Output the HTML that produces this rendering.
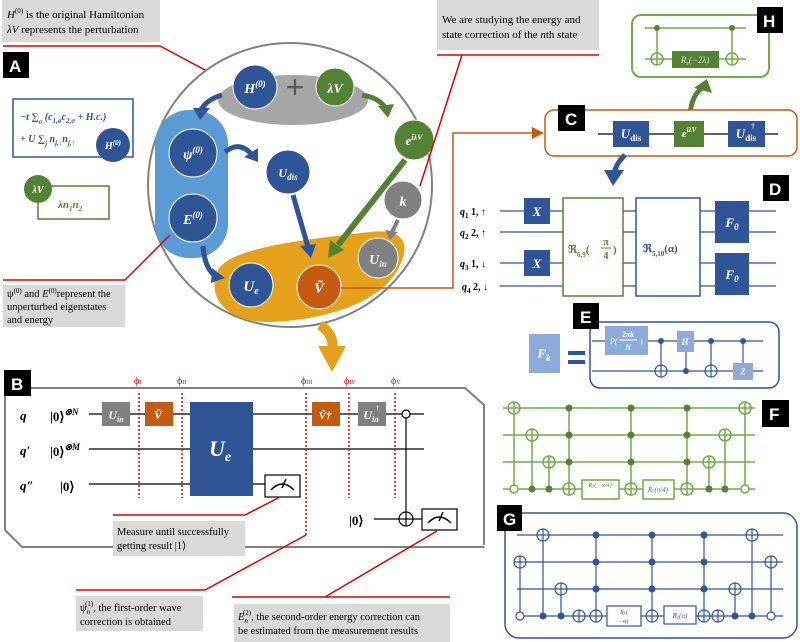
<!DOCTYPE html>
<html><head><meta charset="utf-8"><style>
body{margin:0;background:#fff}
svg{display:block;font-family:"Liberation Serif",serif}
.b{font-weight:bold;font-style:italic}
</style></head><body>
<svg width="800" height="642" viewBox="0 0 800 642" xmlns="http://www.w3.org/2000/svg">
<defs>
<marker id="ar" markerWidth="8" markerHeight="8" refX="6" refY="4" orient="auto"><path d="M0,0L8,4L0,8z" fill="#c55a11"/></marker>
</defs>
<rect x="2" y="0" width="158" height="42" fill="#d9d9d9"/>
<text x="7" y="18" font-size="11"><tspan font-style="italic">H</tspan><tspan font-size="7" dy="-5">(0)</tspan><tspan dy="5"> is the original Hamiltonian</tspan></text>
<text x="7" y="33" font-size="11"><tspan font-style="italic">λV</tspan> represents the perturbation</text>
<polyline points="3,46 160,46 220,78" fill="none" stroke="#d00" stroke-width="1.5"/>
<rect x="3" y="52" width="26" height="26" fill="#000"/><text x="9" y="72" fill="#fff" font-family="Liberation Sans" font-weight="bold" font-size="17">A</text>
<rect x="13" y="99" width="120" height="58" fill="#fff" stroke="#2f5597" stroke-width="1.5"/>
<text x="20" y="120" font-size="10" fill="#2f5597" class="b">−t ∑<tspan font-size="7" dy="4">σ</tspan><tspan dy="-4"> (c</tspan><tspan font-size="7" dy="3">1,σ</tspan><tspan dy="-3">c</tspan><tspan font-size="7" dy="3">2,σ</tspan><tspan dy="-3"> + H.c.)</tspan></text>
<text x="20" y="142" font-size="10" fill="#2f5597" class="b">+ U ∑<tspan font-size="7" dy="4">j</tspan><tspan dy="-4"> n</tspan><tspan font-size="7" dy="3">j,↓</tspan><tspan dy="-3">n</tspan><tspan font-size="7" dy="3">j,↑</tspan></text>
<circle cx="113" cy="145" r="17" fill="#2f5597"/><text x="113" y="149" font-size="10" fill="#fff" text-anchor="middle" class="b">H<tspan font-size="7" dy="-4">(0)</tspan></text>
<rect x="38" y="186" width="71" height="33" fill="#fff" stroke="#548235" stroke-width="1.5"/>
<circle cx="38" cy="189" r="14" fill="#548235"/><text x="38" y="193" font-size="10" fill="#fff" text-anchor="middle" class="b">λV</text>
<text x="58" y="208" font-size="11" fill="#548235" class="b">λn<tspan font-size="7" dy="3">1</tspan><tspan dy="-3">n</tspan><tspan font-size="7" dy="3">2</tspan></text>
<circle cx="290" cy="185" r="142" fill="#fff" stroke="#808080" stroke-width="2"/>
<ellipse cx="293" cy="100" rx="75" ry="25" fill="#a6a6a6"/>
<rect x="155" y="110" width="73" height="148" rx="34" fill="#5b9bd5"/>
<path d="M218,270 C230,248 300,240 370,232 C405,228 410,245 400,265 C385,300 330,320 270,322 C230,323 205,300 218,270z" fill="#e6a11c"/>
<circle cx="255" cy="87" r="22" fill="#2f5597" stroke="#fff"/><text x="255" y="93" font-size="14" fill="#fff" text-anchor="middle" class="b">H<tspan font-size="9" dy="-6">(0)</tspan></text>
<text x="295" y="98" font-size="32" fill="#595959" text-anchor="middle" font-family="Liberation Sans">+</text>
<circle cx="335" cy="87" r="19" fill="#548235" stroke="#fff"/><text x="335" y="93" font-size="14" fill="#fff" text-anchor="middle" class="b">λV</text>
<circle cx="414" cy="140" r="20" fill="#548235" stroke="#fff"/><text x="414" y="145" font-size="13" fill="#fff" text-anchor="middle" class="b">e<tspan font-size="8" dy="-5">iλV</tspan></text>
<circle cx="403" cy="200" r="19" fill="#808080" stroke="#fff"/><text x="403" y="206" font-size="14" fill="#fff" text-anchor="middle" class="b">k</text>
<circle cx="193" cy="153" r="24" fill="#2f5597" stroke="#fff"/><text x="193" y="159" font-size="14" fill="#fff" text-anchor="middle" class="b">ψ<tspan font-size="9" dy="-6">(0)</tspan></text>
<circle cx="193" cy="218" r="24" fill="#2f5597" stroke="#fff"/><text x="193" y="224" font-size="14" fill="#fff" text-anchor="middle" class="b">E<tspan font-size="9" dy="-6">(0)</tspan></text>
<circle cx="288" cy="172" r="22" fill="#2f5597" stroke="#fff"/><text x="288" y="177" font-size="12" fill="#fff" text-anchor="middle" class="b">U<tspan font-size="9" dy="3">dis</tspan></text>
<circle cx="251" cy="285" r="22" fill="#2f5597" stroke="#fff"/><text x="251" y="291" font-size="15" fill="#fff" text-anchor="middle" class="b">U<tspan font-size="10" dy="3">e</tspan></text>
<circle cx="319" cy="287" r="22" fill="#c55a11" stroke="#fff"/><text x="319" y="293" font-size="15" fill="#fff" text-anchor="middle" class="b">Ṽ</text>
<circle cx="378" cy="258" r="20" fill="#808080" stroke="#fff"/><text x="378" y="264" font-size="14" fill="#fff" text-anchor="middle" class="b">U<tspan font-size="9" dy="3">in</tspan></text>
<path d="M222,95 Q205,100 200,112" fill="none" stroke="#2f5597" stroke-width="5"/><path d="M193,108 L200,120 L210,108z" fill="#2f5597"/>
<path d="M362,95 Q380,98 385,108" fill="none" stroke="#548235" stroke-width="5"/><path d="M378,106 L388,118 L394,104z" fill="#548235"/>
<path d="M225,152 Q240,140 252,155" fill="none" stroke="#2f5597" stroke-width="5"/><path d="M244,157 L258,162 L258,148z" fill="#2f5597"/>
<path d="M203,246 Q205,270 216,276" fill="none" stroke="#2f5597" stroke-width="5"/><path d="M212,268 L225,278 L211,283z" fill="#2f5597"/>
<line x1="293" y1="195" x2="308" y2="247" stroke="#2f5597" stroke-width="5"/><path d="M300,246 L311,258 L316,244z" fill="#2f5597"/>
<line x1="405" y1="160" x2="338" y2="245" stroke="#548235" stroke-width="6"/><path d="M330,240 L328,258 L344,250z" fill="#548235"/>
<line x1="398" y1="220" x2="392" y2="232" stroke="#808080" stroke-width="4"/><path d="M385,230 L390,240 L398,232z" fill="#808080"/>
<path d="M320,325 Q335,335 332,350" fill="none" stroke="#e6a11c" stroke-width="10"/><path d="M318,346 L332,372 L346,346z" fill="#e6a11c"/>
<polyline points="3,280 125,280 170,235" fill="none" stroke="#d00" stroke-width="1.5"/>
<rect x="3" y="285" width="122" height="42" fill="#d9d9d9"/>
<text x="7" y="297" font-size="10.5">ψ<tspan font-size="7" dy="-4">(0)</tspan><tspan dy="4"> and </tspan><tspan font-style="italic">E</tspan><tspan font-size="7" dy="-4">(0)</tspan><tspan dy="4">represent the</tspan></text>
<text x="7" y="310" font-size="10.5">unperturbed eigenstates</text>
<text x="7" y="323" font-size="10.5">and energy</text>
<rect x="437" y="0" width="162" height="50" fill="#d9d9d9"/>
<text x="442" y="23" font-size="11">We are studying the energy and</text>
<text x="442" y="38" font-size="11">state correction of the <tspan font-style="italic">n</tspan>th state</text>
<line x1="437" y1="55" x2="599" y2="55" stroke="#d00" stroke-width="1.5"/>
<line x1="462" y1="55" x2="420" y2="186" stroke="#d00" stroke-width="1.5"/>
<rect x="632" y="15" width="137" height="62" rx="9" fill="#fff" stroke="#70ad47" stroke-width="2"/>
<rect x="757" y="7" width="26" height="26" fill="#000"/><text x="763" y="27" fill="#fff" font-family="Liberation Sans" font-weight="bold" font-size="17">H</text>
<line x1="645" y1="28" x2="746" y2="28" stroke="#70ad47" stroke-width="1.5"/>
<line x1="645" y1="59" x2="746" y2="59" stroke="#70ad47" stroke-width="1.5"/>
<g stroke="#70ad47" stroke-width="1.5" fill="none"><line x1="657" y1="28" x2="657" y2="65"/><circle cx="657" cy="59" r="6" fill="#fff"/><line x1="651" y1="59" x2="663" y2="59"/><line x1="657" y1="53" x2="657" y2="65"/>
<line x1="732" y1="28" x2="732" y2="65"/><circle cx="732" cy="59" r="6" fill="#fff"/><line x1="726" y1="59" x2="738" y2="59"/><line x1="732" y1="53" x2="732" y2="65"/></g>
<circle cx="657" cy="28" r="3" fill="#548235"/><circle cx="732" cy="28" r="3" fill="#548235"/>
<rect x="672" y="51" width="47" height="17" fill="#548235"/><text x="695" y="63" font-size="9" fill="#d9ead3" text-anchor="middle" font-style="italic">R<tspan font-size="6" dy="2">z</tspan><tspan dy="-2">(−2λ)</tspan></text>
<path d="M690,114 Q692,95 702,88" fill="none" stroke="#548235" stroke-width="5"/><path d="M694,88 L707,79 L712,93z" fill="#548235"/>
<rect x="545" y="110" width="252" height="46" rx="9" fill="#fff" stroke="#c55a11" stroke-width="1.5"/>
<rect x="558" y="105" width="27" height="26" fill="#000"/><text x="565" y="125" fill="#fff" font-family="Liberation Sans" font-weight="bold" font-size="17">C</text>
<line x1="598" y1="134" x2="778" y2="134" stroke="#000" stroke-width="1.2"/>
<rect x="613" y="121" width="36" height="26" fill="#2f5597"/><text x="631" y="138" font-size="13" fill="#fff" text-anchor="middle" class="b">U<tspan font-size="9" dy="3" font-style="normal">dis</tspan></text>
<rect x="674" y="121" width="30" height="26" fill="#548235"/><text x="689" y="137" font-size="11" fill="#fff" text-anchor="middle" class="b">e<tspan font-size="7" dy="-5">iλV</tspan></text>
<rect x="728" y="121" width="37" height="26" fill="#2f5597"/><text x="746" y="138" font-size="13" fill="#fff" text-anchor="middle" class="b">U<tspan font-size="9" dy="3" font-style="normal">dis</tspan></text><text x="751" y="129" font-size="8" fill="#fff">†</text>
<polyline points="341,288 453,288 453,133 541,133" fill="none" stroke="#c55a11" stroke-width="1.5" marker-end="url(#ar)"/>
<path d="M625,155 Q615,165 615,172" fill="none" stroke="#2f5597" stroke-width="5"/><path d="M604,170 L613,186 L624,170z" fill="#2f5597"/>
<rect x="763" y="175" width="26" height="26" fill="#000"/><text x="769" y="195" fill="#fff" font-family="Liberation Sans" font-weight="bold" font-size="17">D</text>
<g stroke="#2f5597" stroke-width="1.2"><line x1="500" y1="211" x2="776" y2="211"/><line x1="500" y1="232" x2="776" y2="232"/><line x1="500" y1="263" x2="776" y2="263"/><line x1="500" y1="286" x2="776" y2="286"/></g>
<g font-size="10" font-weight="bold"><text x="460" y="215"><tspan font-style="italic">q</tspan><tspan font-size="7" dy="3">1</tspan><tspan dy="-3"> 1,  ↑</tspan></text>
<text x="460" y="236"><tspan font-style="italic">q</tspan><tspan font-size="7" dy="3">2</tspan><tspan dy="-3"> 2,  ↑</tspan></text>
<text x="460" y="267"><tspan font-style="italic">q</tspan><tspan font-size="7" dy="3">3</tspan><tspan dy="-3"> 1,  ↓</tspan></text>
<text x="462" y="290"><tspan font-style="italic">q</tspan><tspan font-size="7" dy="3">4</tspan><tspan dy="-3"> 2,  ↓</tspan></text></g>
<rect x="524" y="198" width="26" height="26" fill="#2f5597"/><text x="537" y="216" font-size="13" fill="#fff" text-anchor="middle" class="b">X</text>
<rect x="524" y="250" width="26" height="26" fill="#2f5597"/><text x="537" y="268" font-size="13" fill="#fff" text-anchor="middle" class="b">X</text>
<rect x="563" y="198" width="60" height="98" fill="#fff" stroke="#548235" stroke-width="1.5"/>
<text x="568" y="253" font-size="11" fill="#548235" font-weight="bold">ℜ<tspan font-size="7" dy="4">6,9</tspan><tspan dy="-4">(</tspan></text><text x="606" y="245" font-size="10" fill="#548235" text-anchor="middle" font-weight="bold">π</text><line x1="601" y1="248" x2="611" y2="248" stroke="#548235"/><text x="606" y="259" font-size="10" fill="#548235" text-anchor="middle" font-weight="bold">4</text><text x="613" y="253" font-size="11" fill="#548235" font-weight="bold">)</text>
<rect x="636" y="198" width="64" height="98" fill="#fff" stroke="#2f5597" stroke-width="1.5"/>
<text x="643" y="252" font-size="11" fill="#2f5597" font-weight="bold">ℜ<tspan font-size="7" dy="4">5,10</tspan><tspan dy="-4">(α)</tspan></text>
<rect x="715" y="201" width="34" height="42" fill="#2f5597"/><text x="732" y="227" font-size="13" fill="#fff" text-anchor="middle" class="b">F<tspan font-size="9" dy="3">0</tspan></text>
<rect x="715" y="253" width="34" height="42" fill="#2f5597"/><text x="732" y="279" font-size="13" fill="#fff" text-anchor="middle" class="b">F<tspan font-size="9" dy="3">0</tspan></text>
<rect x="590" y="322" width="189" height="66" rx="10" fill="#fff" stroke="#2f5597" stroke-width="1.5"/>
<rect x="573" y="303" width="26" height="26" fill="#000"/><text x="580" y="323" fill="#fff" font-family="Liberation Sans" font-weight="bold" font-size="17">E</text>
<rect x="529" y="334" width="31" height="39" fill="#8eaadb"/><text x="544" y="358" font-size="13" fill="#fff" text-anchor="middle" class="b">F<tspan font-size="9" dy="3">k</tspan></text>
<rect x="568" y="351" width="17" height="4" fill="#2f5597"/><rect x="568" y="360" width="17" height="4" fill="#2f5597"/>
<g stroke="#2f5597" stroke-width="1.2"><line x1="592" y1="341" x2="763" y2="341"/><line x1="592" y1="371" x2="763" y2="371"/>
<line x1="661" y1="341" x2="661" y2="377"/><line x1="686" y1="352" x2="686" y2="371"/><line x1="711" y1="341" x2="711" y2="377"/><line x1="743" y1="341" x2="743" y2="363"/></g>
<g stroke="#2f5597" stroke-width="1.2" fill="#fff"><circle cx="661" cy="371" r="6"/><circle cx="711" cy="371" r="6"/></g>
<g stroke="#2f5597" stroke-width="1.2"><line x1="661" y1="365" x2="661" y2="377"/><line x1="655" y1="371" x2="667" y2="371"/><line x1="711" y1="365" x2="711" y2="377"/><line x1="705" y1="371" x2="717" y2="371"/></g>
<g fill="#2f5597"><circle cx="661" cy="341" r="3"/><circle cx="686" cy="371" r="3"/><circle cx="711" cy="341" r="3"/><circle cx="743" cy="341" r="3"/></g>
<rect x="605" y="326" width="43" height="29" fill="#8eaadb"/><text x="610" y="344" font-size="8" fill="#fff" font-style="italic">P(</text><text x="628" y="337" font-size="8" fill="#fff" text-anchor="middle" class="b">2πk</text><line x1="619" y1="340" x2="637" y2="340" stroke="#fff"/><text x="628" y="350" font-size="8" fill="#fff" text-anchor="middle" class="b">N</text><text x="640" y="344" font-size="8" fill="#fff">)</text>
<rect x="677" y="331" width="17" height="21" fill="#8eaadb"/><text x="685" y="345" font-size="9" fill="#fff" text-anchor="middle" class="b">H</text>
<rect x="733" y="363" width="20" height="17" fill="#8eaadb"/><text x="743" y="375" font-size="9" fill="#fff" text-anchor="middle" class="b">Z</text>
<rect x="762" y="400" width="27" height="27" fill="#000"/><text x="769" y="420" fill="#fff" font-family="Liberation Sans" font-weight="bold" font-size="17">F</text>
<g stroke="#70ad47" stroke-width="1.5" fill="none">
<line x1="503" y1="408" x2="755" y2="408"/><line x1="503" y1="435" x2="755" y2="435"/><line x1="503" y1="462" x2="755" y2="462"/><line x1="503" y1="489" x2="755" y2="489"/>
<line x1="514" y1="402" x2="514" y2="486"/><line x1="532" y1="429" x2="532" y2="489"/><line x1="549" y1="456" x2="549" y2="489"/><line x1="569" y1="408" x2="569" y2="495"/><line x1="631" y1="408" x2="631" y2="495"/><line x1="687" y1="408" x2="687" y2="495"/><line x1="709" y1="456" x2="709" y2="489"/><line x1="725" y1="429" x2="725" y2="489"/><line x1="745" y1="402" x2="745" y2="486"/>
</g>
<g stroke="#70ad47" stroke-width="1.5" fill="#fff">
<circle cx="514" cy="408" r="6"/><circle cx="532" cy="435" r="6"/><circle cx="549" cy="462" r="6"/><circle cx="569" cy="489" r="6"/><circle cx="631" cy="489" r="6"/><circle cx="687" cy="489" r="6"/><circle cx="709" cy="462" r="6"/><circle cx="725" cy="435" r="6"/><circle cx="745" cy="408" r="6"/>
<circle cx="514" cy="489" r="4"/><circle cx="745" cy="489" r="4"/>
<rect x="582" y="480" width="37" height="19"/><rect x="643" y="480" width="31" height="19"/>
</g>
<g stroke="#70ad47" stroke-width="1.5">
<path d="M508,408h12M514,402v12M526,435h12M532,429v12M543,462h12M549,456v12M563,489h12M569,483v12M625,489h12M631,483v12M681,489h12M687,483v12M703,462h12M709,456v12M719,435h12M725,429v12M739,408h12M745,402v12"/>
</g>
<g fill="#548235"><circle cx="532" cy="489" r="3.5"/><circle cx="549" cy="489" r="3.5"/><circle cx="709" cy="489" r="3.5"/><circle cx="725" cy="489" r="3.5"/>
<circle cx="569" cy="408" r="3.5"/><circle cx="569" cy="435" r="3.5"/><circle cx="569" cy="462" r="3.5"/><circle cx="631" cy="408" r="3.5"/><circle cx="631" cy="435" r="3.5"/><circle cx="631" cy="462" r="3.5"/><circle cx="687" cy="408" r="3.5"/><circle cx="687" cy="435" r="3.5"/><circle cx="687" cy="462" r="3.5"/></g>
<text x="600" y="487" font-size="6" fill="#548235" text-anchor="middle" font-style="italic">R<tspan font-size="5">y</tspan>(  −π/4)</text>
<text x="658" y="492" font-size="7" fill="#548235" text-anchor="middle" font-style="italic">R<tspan font-size="5">y</tspan>(π/4)</text>
<rect x="505" y="513" width="292" height="125" rx="14" fill="none" stroke="#2f5597" stroke-width="1.5"/>
<rect x="497" y="505" width="25" height="26" fill="#000"/><text x="503" y="525" fill="#fff" font-family="Liberation Sans" font-weight="bold" font-size="17">G</text>
<g stroke="#2f5597" stroke-width="1.2" fill="none">
<line x1="517" y1="535" x2="783" y2="535"/><line x1="517" y1="562" x2="783" y2="562"/><line x1="517" y1="589" x2="783" y2="589"/><line x1="517" y1="616" x2="783" y2="616"/>
<line x1="520" y1="556" x2="520" y2="613"/><line x1="543" y1="529" x2="543" y2="616"/><line x1="561" y1="583" x2="561" y2="616"/><line x1="596" y1="535" x2="596" y2="622"/><line x1="652" y1="535" x2="652" y2="622"/><line x1="704" y1="535" x2="704" y2="622"/><line x1="735" y1="583" x2="735" y2="616"/><line x1="752" y1="529" x2="752" y2="616"/><line x1="771" y1="556" x2="771" y2="613"/>
</g>
<g stroke="#2f5597" stroke-width="1.2" fill="#fff">
<circle cx="520" cy="562" r="6"/><circle cx="543" cy="535" r="6"/><circle cx="561" cy="589" r="6"/><circle cx="579" cy="616" r="6"/><circle cx="596" cy="616" r="6"/><circle cx="652" cy="616" r="6"/><circle cx="704" cy="616" r="6"/><circle cx="718" cy="616" r="6"/><circle cx="735" cy="589" r="6"/><circle cx="752" cy="535" r="6"/><circle cx="771" cy="562" r="6"/>
<circle cx="520" cy="616" r="4"/><circle cx="771" cy="616" r="4"/>
<rect x="607" y="606" width="34" height="20"/><rect x="664" y="606" width="32" height="18"/>
</g>
<g stroke="#2f5597" stroke-width="1.2">
<path d="M514,562h12M520,556v12M537,535h12M543,529v12M555,589h12M561,583v12M573,616h12M579,610v12M590,616h12M596,610v12M646,616h12M652,610v12M698,616h12M704,610v12M712,616h12M718,610v12M729,589h12M735,583v12M746,535h12M752,529v12M765,562h12M771,556v12"/>
</g>
<g fill="#2f5597"><circle cx="543" cy="616" r="3.5"/><circle cx="561" cy="616" r="3.5"/><circle cx="735" cy="616" r="3.5"/><circle cx="752" cy="616" r="3.5"/>
<circle cx="596" cy="535" r="3.5"/><circle cx="596" cy="562" r="3.5"/><circle cx="596" cy="589" r="3.5"/><circle cx="652" cy="535" r="3.5"/><circle cx="652" cy="562" r="3.5"/><circle cx="652" cy="589" r="3.5"/><circle cx="704" cy="535" r="3.5"/><circle cx="704" cy="562" r="3.5"/><circle cx="704" cy="589" r="3.5"/></g>
<text x="624" y="614" font-size="6" fill="#2f5597" text-anchor="middle" font-style="italic">R<tspan font-size="5">y</tspan>(</text><text x="624" y="623" font-size="6" fill="#2f5597" text-anchor="middle">−α)</text>
<text x="680" y="618" font-size="7" fill="#2f5597" text-anchor="middle" font-style="italic">R<tspan font-size="5">y</tspan>(α)</text>
<polyline points="30,388 465,388 484,405 484,545" fill="none" stroke="#808080" stroke-width="2"/>
<polyline points="5,396 5,530 22,547 113,547" fill="none" stroke="#808080" stroke-width="2"/>
<line x1="245" y1="547" x2="484" y2="547" stroke="#808080" stroke-width="2"/>
<rect x="4" y="370" width="27" height="26" fill="#000"/><text x="11" y="390" fill="#fff" font-family="Liberation Sans" font-weight="bold" font-size="17">B</text>
<g stroke="#000" stroke-width="1.2"><line x1="89" y1="414" x2="424" y2="414"/><line x1="89" y1="449" x2="424" y2="449"/><line x1="89" y1="484" x2="266" y2="484"/><line x1="374" y1="519" x2="423" y2="519"/><line x1="406" y1="418" x2="406" y2="525"/></g>
<g font-size="13" font-weight="bold"><text x="20" y="420" font-style="italic">q</text><text x="20" y="455" font-style="italic">q′</text><text x="20" y="490" font-style="italic">q″</text>
<text x="50" y="421">|0⟩<tspan font-size="9" dy="-6" font-style="italic">⊗N</tspan></text><text x="50" y="456">|0⟩<tspan font-size="9" dy="-6" font-style="italic">⊗M</tspan></text><text x="60" y="491">|0⟩</text><text x="349" y="525">|0⟩</text></g>
<rect x="102" y="402" width="28" height="24" fill="#808080"/><text x="116" y="419" font-size="12" fill="#fff" text-anchor="middle" class="b">U<tspan font-size="8" dy="3">in</tspan></text>
<rect x="145" y="402" width="28" height="24" fill="#c55a11"/><text x="158" y="419" font-size="12" fill="#fff" text-anchor="middle" class="b">Ṽ</text>
<rect x="190" y="402" width="63" height="94" fill="#2f5597"/><text x="220" y="456" font-size="22" fill="#fff" text-anchor="middle" class="b">U<tspan font-size="14" dy="5">e</tspan></text>
<rect x="312" y="402" width="28" height="24" fill="#c55a11"/><text x="325" y="419" font-size="11" fill="#fff" text-anchor="middle" class="b">Ṽ†</text>
<rect x="358" y="402" width="28" height="24" fill="#808080"/><text x="371" y="419" font-size="12" fill="#fff" text-anchor="middle" class="b">U<tspan font-size="8" dy="3">in</tspan></text><text x="376" y="410" font-size="7" fill="#fff">†</text>
<rect x="265" y="475" width="35" height="22" fill="#fff" stroke="#000" stroke-width="1.2"/><path d="M271,490 Q282,478 294,490 M282,488 L286,479" fill="none" stroke="#000" stroke-width="1.5"/>
<rect x="422" y="509" width="35" height="21" fill="#fff" stroke="#000" stroke-width="1.2"/><path d="M428,523 Q439,511 451,523 M439,521 L443,512" fill="none" stroke="#000" stroke-width="1.5"/>
<circle cx="406" cy="414" r="4" fill="#fff" stroke="#000" stroke-width="1.2"/>
<circle cx="406" cy="519" r="7" fill="none" stroke="#000" stroke-width="1.2"/><line x1="399" y1="519" x2="413" y2="519" stroke="#000"/>
<g stroke="#d00" stroke-width="1.5" stroke-dasharray="2,2"><line x1="139" y1="393" x2="139" y2="498"/><line x1="182" y1="393" x2="182" y2="498"/><line x1="306" y1="393" x2="306" y2="535"/><line x1="349" y1="393" x2="349" y2="498"/><line x1="395" y1="393" x2="395" y2="498"/></g>
<g font-size="10" fill="#d00"><text x="134" y="384">ϕ<tspan font-size="6">I</tspan></text><text x="177" y="384">ϕ<tspan font-size="6">II</tspan></text><text x="301" y="384">ϕ<tspan font-size="6">III</tspan></text><text x="344" y="384">ϕ<tspan font-size="6">IV</tspan></text><text x="391" y="384">ϕ<tspan font-size="6">V</tspan></text></g>
<polyline points="113,515 245,515 280,497" fill="none" stroke="#d00" stroke-width="1.5"/>
<rect x="113" y="521" width="132" height="35" fill="#d9d9d9"/>
<text x="117" y="535" font-size="10.5">Measure until successfully</text><text x="117" y="549" font-size="10.5">getting result |1⟩</text>
<polyline points="306,535 205,590 76,590" fill="none" stroke="#d00" stroke-width="1.5"/>
<rect x="76" y="596" width="127" height="35" fill="#d9d9d9"/>
<text x="80" y="611" font-size="10.5">ψ<tspan font-size="7" font-style="italic" dy="3">n</tspan><tspan font-size="7" dx="-5" dy="-8">(1)</tspan><tspan dy="5">, the first-order wave</tspan></text><text x="80" y="625" font-size="10.5">correction is obtained</text>
<polyline points="437,531 325,597" fill="none" stroke="#d00" stroke-width="1.5"/>
<line x1="232" y1="597" x2="450" y2="597" stroke="#d00" stroke-width="1.5"/>
<rect x="234" y="604" width="216" height="38" fill="#d9d9d9"/>
<text x="238" y="620" font-size="10.5"><tspan font-style="italic">E</tspan><tspan font-size="7" font-style="italic" dy="3">n</tspan><tspan font-size="7" dx="-5" dy="-8">(2)</tspan><tspan dy="5">, the second-order energy correction can</tspan></text>
<text x="238" y="634" font-size="10.5">be estimated from the measurement results</text>
</svg>
</body></html>
